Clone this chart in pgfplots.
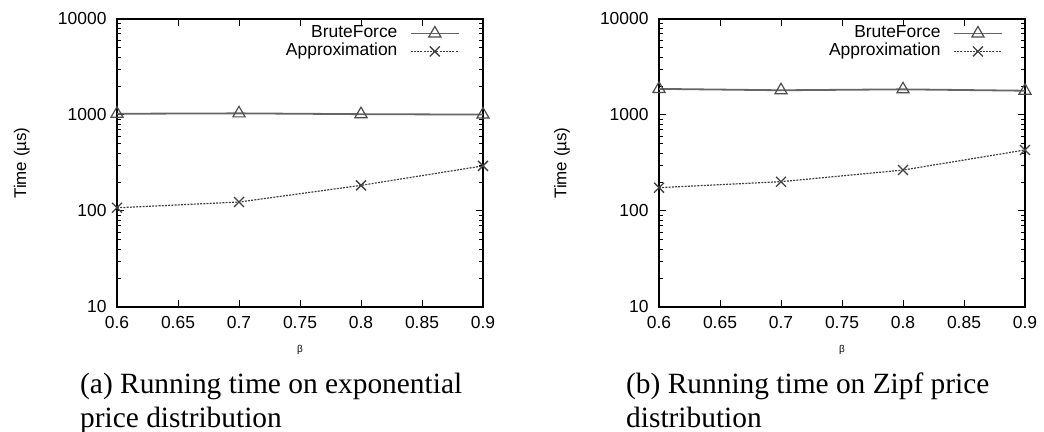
\documentclass[border=0pt]{standalone}
\usepackage{fontspec}
\setmainfont{Liberation Sans}
\newfontfamily\capfont{Liberation Serif}
\usepackage{pgfplots}
\pgfplotsset{compat=1.18}
\begin{document}
\begin{tikzpicture}
\useasboundingbox (0bp,0bp) rectangle (1044bp,432bp);
\begin{axis}[at={(117bp,125bp)}, anchor=south west,
    scale only axis, width=366bp, height=288bp,
    ymode=log,
    xmin=0.6, xmax=0.9, ymin=10, ymax=10000,
    xtick={0.6,0.65,0.7,0.75,0.8,0.85,0.9},
    xticklabels={0.6,0.65,0.7,0.75,0.8,0.85,0.9},
    ytick={10,100,1000,10000},
    yticklabels={10,100,1000,10000},
    /pgf/number format/assume math mode=true,
    tick align=inside, tick pos=both,
    major tick length=7bp, minor tick length=4bp,
    axis line style={line width=1.5bp},
    tick style={black, line width=1bp},
    tick label style={font=\fontsize{17.5}{20}\selectfont},
    xticklabel style={yshift=-6bp},
    yticklabel style={xshift=-7bp},
    ylabel={Time (µs)},
    ylabel style={at={(axis description cs:-0.26,0.5)}, anchor=center, font=\fontsize{17}{20}\selectfont},
    xlabel={β},
    xlabel style={at={(axis description cs:0.5,-0.15)}, anchor=center, font=\fontsize{10}{12}\selectfont},
    legend style={draw=none, fill=none, at={(axis description cs:0.937,0.98)}, anchor=north east,
      font=\fontsize{17.5}{20}\selectfont, row sep=1bp, column sep=12bp, inner sep=0bp,
      nodes={inner sep=0.5bp, text height=12.5bp, text depth=3.5bp}},
    legend cell align=right,
    legend plot pos=right,
  legend image code/.code={\draw[mark repeat=2,mark phase=2,#1] plot coordinates {(0bp,0bp) (24bp,0bp) (48bp,0bp)};}]
\addplot[black!60, line width=1.8bp, mark=triangle, mark size=7bp, mark options={solid, line width=1.2bp, black!70}] coordinates {(0.6,1030) (0.7,1040) (0.8,1020) (0.9,1010)};
\addlegendentry{BruteForce}
\addplot[black!75, line width=1.2bp, dash pattern=on 2bp off 1.2bp, mark=x, mark size=7bp, mark options={solid, line width=1.3bp, black!75}] coordinates {(0.6,108) (0.7,124) (0.8,185) (0.9,295)};
\addlegendentry{Approximation}
\end{axis}
\begin{axis}[at={(659bp,125bp)}, anchor=south west,
    scale only axis, width=366bp, height=288bp,
    ymode=log,
    xmin=0.6, xmax=0.9, ymin=10, ymax=10000,
    xtick={0.6,0.65,0.7,0.75,0.8,0.85,0.9},
    xticklabels={0.6,0.65,0.7,0.75,0.8,0.85,0.9},
    ytick={10,100,1000,10000},
    yticklabels={10,100,1000,10000},
    /pgf/number format/assume math mode=true,
    tick align=inside, tick pos=both,
    major tick length=7bp, minor tick length=4bp,
    axis line style={line width=1.5bp},
    tick style={black, line width=1bp},
    tick label style={font=\fontsize{17.5}{20}\selectfont},
    xticklabel style={yshift=-6bp},
    yticklabel style={xshift=-7bp},
    ylabel={Time (µs)},
    ylabel style={at={(axis description cs:-0.265,0.5)}, anchor=center, font=\fontsize{17}{20}\selectfont},
    xlabel={β},
    xlabel style={at={(axis description cs:0.5,-0.15)}, anchor=center, font=\fontsize{10}{12}\selectfont},
    legend style={draw=none, fill=none, at={(axis description cs:0.94,0.98)}, anchor=north east,
      font=\fontsize{17.5}{20}\selectfont, row sep=1bp, column sep=12bp, inner sep=0bp,
      nodes={inner sep=0.5bp, text height=12.5bp, text depth=3.5bp}},
    legend cell align=right,
    legend plot pos=right,
  legend image code/.code={\draw[mark repeat=2,mark phase=2,#1] plot coordinates {(0bp,0bp) (24bp,0bp) (48bp,0bp)};}]
\addplot[black!60, line width=1.8bp, mark=triangle, mark size=7bp, mark options={solid, line width=1.2bp, black!70}] coordinates {(0.6,1870) (0.7,1810) (0.8,1850) (0.9,1790)};
\addlegendentry{BruteForce}
\addplot[black!75, line width=1.2bp, dash pattern=on 2bp off 1.2bp, mark=x, mark size=7bp, mark options={solid, line width=1.3bp, black!75}] coordinates {(0.6,175) (0.7,202) (0.8,267) (0.9,432)};
\addlegendentry{Approximation}
\end{axis}
\begin{scope}[font=\capfont\fontsize{29.5}{34}\selectfont, every node/.style={inner sep=0pt}]
\node[anchor=base west] at (80bp,39bp) {(a) Running time on exponential};
\node[anchor=base west] at (80bp,5bp) {price distribution};
\node[anchor=base west] at (626bp,39bp) {(b) Running time on Zipf price};
\node[anchor=base west] at (626bp,5bp) {distribution};
\end{scope}
\end{tikzpicture}
\end{document}
